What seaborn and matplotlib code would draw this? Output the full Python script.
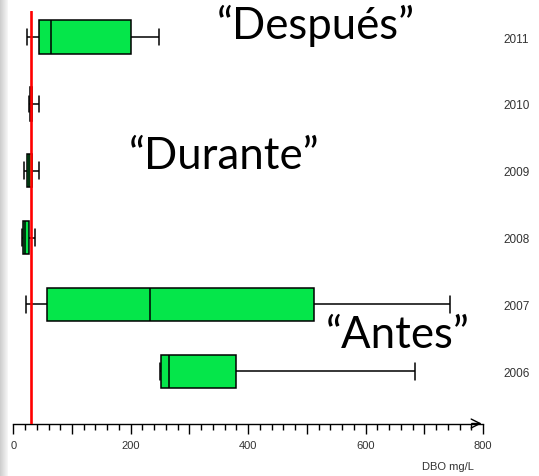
import numpy as np
import pandas as pd
import matplotlib
matplotlib.use("Agg")
import matplotlib.pyplot as plt
import seaborn as sns

# ---- data ----
years = ["2011", "2010", "2009", "2008", "2007", "2006"]
whisker_low = [24, 27, 19, 15, 22, 250]
q1 = [43, 28, 23, 17, 57, 252]
median = [65, 30, 26, 20, 232, 266]
q3 = [200, 32, 31, 26, 512, 379]
whisker_high = [249, 43, 44, 37, 743, 684]
limit_value = 30
x_label = "DBO mg/L"
annotations = ["\u201cDespués\u201d", "\u201cDurante\u201d", "\u201cAntes\u201d"]

rows = []
for i, y in enumerate(years):
    for v in (whisker_low[i], q1[i], median[i], q3[i], whisker_high[i]):
        rows.append({"year": y, "DBO": v})
df = pd.DataFrame(rows)

sns.set_style("white")
plt.rcParams["font.family"] = ["Liberation Sans", "DejaVu Sans"]

W, H = 539, 477
fig = plt.figure(figsize=(W / 100, H / 100), dpi=100)
fig.patch.set_facecolor("white")

# left gray gradient strip (slide background)
gax = fig.add_axes([0, 0, 8 / W, 1], zorder=-5)
grad = np.linspace(0.80, 0.97, 64).reshape(1, -1)
gax.imshow(grad, aspect="auto", cmap="gray", vmin=0, vmax=1, extent=(0, 1, 0, 1))
gax.axis("off")

ax = fig.add_axes([13.3 / W, (H - 424.5) / H, (483 - 13.3) / W, (424.5 - 12) / H])
ax.set_facecolor("none")

green = "#05E64A"
sns.boxplot(data=df, x="DBO", y="year", order=years, whis=(0, 100), width=0.5,
            color=green, saturation=1, linecolor="black", linewidth=1.1,
            fliersize=0, ax=ax)

ax.axvline(limit_value, color="#ff0000", lw=1.9, zorder=5)

ax.set_xlim(0, 800)
ax.set_ylim(5.78, -0.39)
ax.set_xlabel("")
ax.set_ylabel("")

for s in ("top", "right", "left"):
    ax.spines[s].set_visible(False)
ax.spines["bottom"].set_linewidth(1.0)
ax.spines["bottom"].set_color("black")

ax.set_xticks(np.arange(0, 801, 100))
ax.set_xticklabels([str(v) if v % 200 == 0 else "" for v in range(0, 801, 100)])
ax.set_xticks(np.arange(0, 801, 20), minor=True)
ax.tick_params(axis="x", which="major", direction="out", length=7.5, width=1.0,
               color="black", labelsize=8, labelcolor="#333333", pad=4.5, bottom=True)
ax.tick_params(axis="x", which="minor", direction="out", length=4.5, width=1.0,
               color="black", bottom=True)

ax.yaxis.tick_right()
ax.tick_params(axis="y", length=0, pad=14.5, labelsize=8.5, labelcolor="#333333")

ax.annotate("", xy=(1.003, 0), xytext=(0.97, 0), xycoords="axes fraction",
            arrowprops=dict(arrowstyle="->", lw=1.0, color="black", mutation_scale=16),
            annotation_clip=False)

fig.text(474 / W, 1 - 467 / H, x_label, ha="right", va="center", fontsize=8, color="#333333")

big = dict(family=["Lato", "DejaVu Sans"], fontsize=31.5, color="black", va="baseline", ha="left")
fig.text(217 / W, 1 - 39 / H, annotations[0], **big)
fig.text(129 / W, 1 - 169 / H, annotations[1], **big)
fig.text(326 / W, 1 - 348 / H, annotations[2], **big)

fig.savefig("out.png", dpi=100)
